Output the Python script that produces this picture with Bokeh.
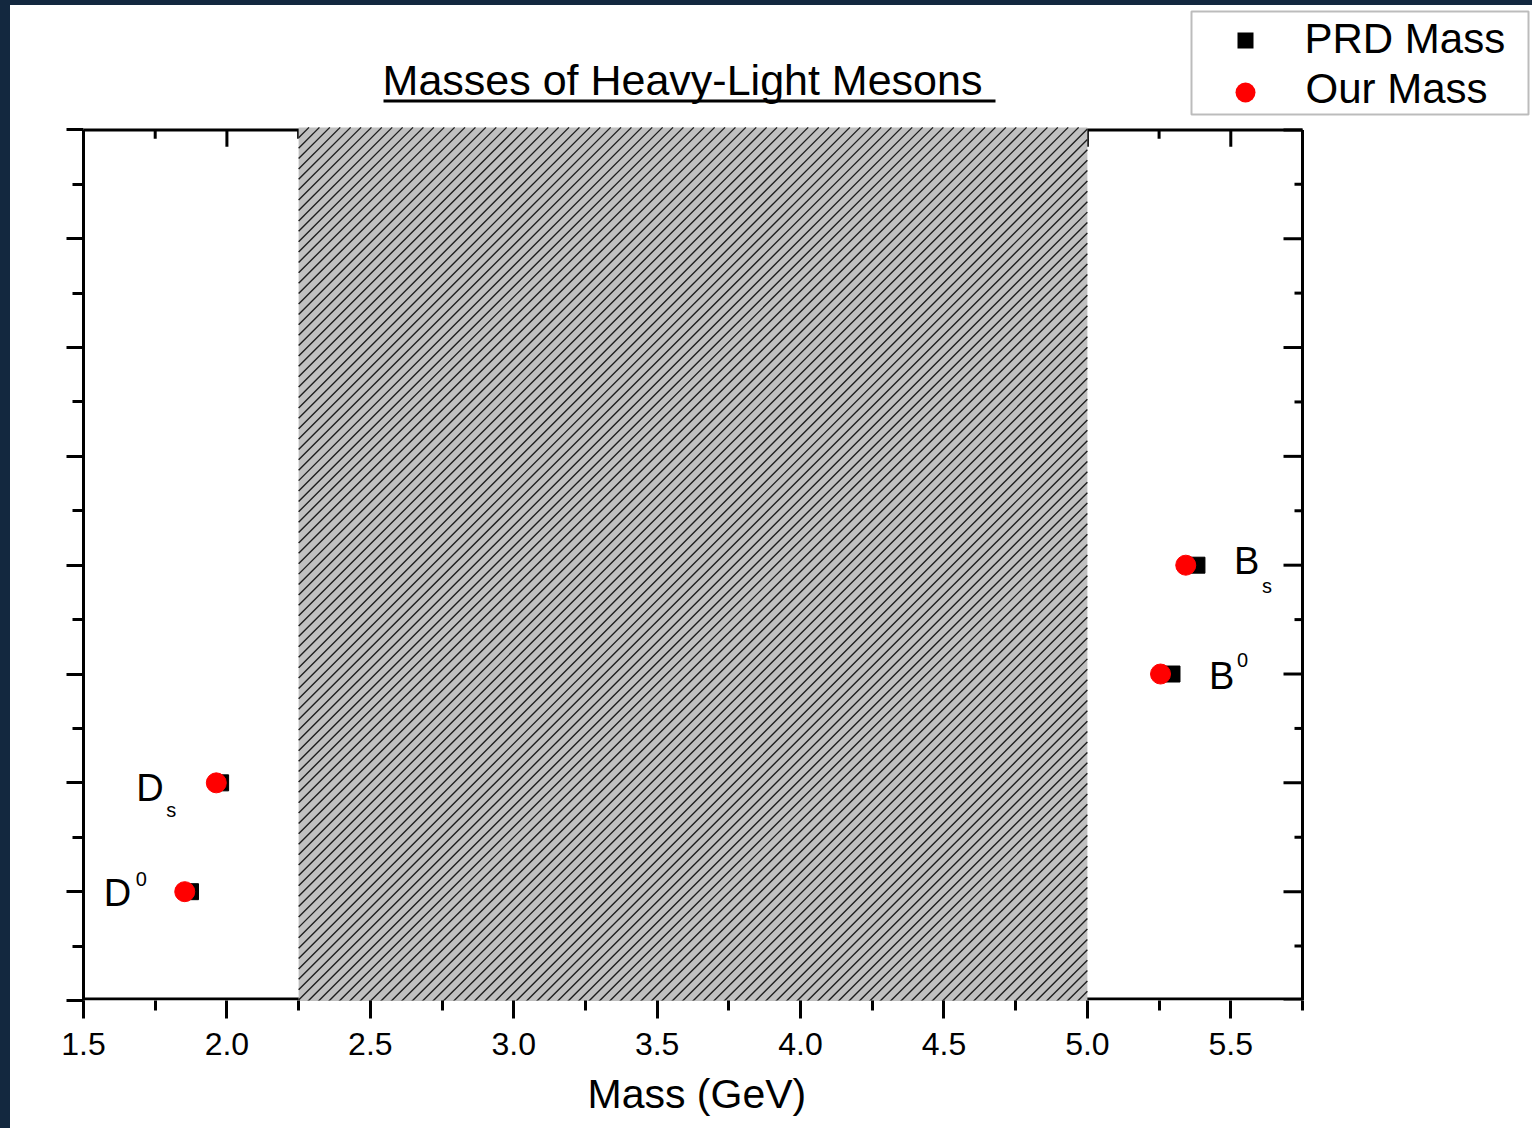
import numpy as np
from bokeh.plotting import figure
from bokeh.layouts import row, column
from bokeh.models import (Range1d, FixedTicker, BoxAnnotation, Label, Title,
                          CustomJSTickFormatter, Spacer)
from bokeh.embed import file_html
from bokeh.resources import INLINE

# ---------------- data ----------------
meson_base = ["D", "D", "B", "B"]
meson_script = ["0", "s", "0", "s"]
meson_rank = [1, 2, 3, 4]
prd_mass = [1.873, 1.978, 5.295, 5.382]
our_mass = [1.853, 1.963, 5.255, 5.343]

x_ticks = [1.5, 2.0, 2.5, 3.0, 3.5, 4.0, 4.5, 5.0, 5.5]
x_tick_labels = ["1.5", "2.0", "2.5", "3.0", "3.5", "4.0", "4.5", "5.0", "5.5"]
x_minor = [1.75, 2.25, 2.75, 3.25, 3.75, 4.25, 4.75, 5.25, 5.75]
y_ticks = [0, 1, 2, 3, 4, 5, 6, 7, 8]
y_minor = [0.5, 1.5, 2.5, 3.5, 4.5, 5.5, 6.5, 7.5]
x_lo, x_hi = 1.5, 5.75
y_lo, y_hi = 0, 8
band_lo, band_hi = 2.25, 5.0

title_text = "Masses of Heavy-Light Mesons"
x_label = "Mass (GeV)"
legend_labels = ["PRD Mass", "Our Mass"]

FONT = "Liberation Sans"
DARK_BG = "#13283f"

# ---------------- geometry (pixels) ----------------
W, H = 1522, 1123          # figure size (page offset 10, 5 by dark slide strips)
FL, FB = 73, 996           # frame left / bottom (canvas px)
AX_R, AX_T = 1292, 124.5   # right and top edges of the drawn axes box
ppx = (AX_R - FL) / (x_hi - x_lo)
ppy = (FB - AX_T) / (y_hi - y_lo)
x_end = x_lo + (W - FL) / ppx
y_end = y_hi + AX_T / ppy

p = figure(width=W, height=H, x_range=Range1d(x_lo, x_end), y_range=Range1d(y_lo, y_end),
           output_backend="svg", toolbar_location=None,
           min_border_left=FL, min_border_right=0, min_border_top=0,
           min_border_bottom=H - FB)
p.xgrid.visible = False
p.ygrid.visible = False
p.outline_line_color = None
p.background_fill_color = "white"
p.border_fill_color = "white"

blank = CustomJSTickFormatter(code="return ''")

def style_axis(ax, tout, min_out):
    ax.axis_line_width = 3
    ax.axis_line_color = "black"
    ax.major_tick_line_width = 3
    ax.minor_tick_line_width = 3
    ax.major_tick_line_color = "black"
    ax.minor_tick_line_color = "black"
    ax.major_tick_in = 0
    ax.major_tick_out = tout
    ax.minor_tick_in = 0
    ax.minor_tick_out = min_out

xb = p.xaxis[0]
xb.ticker = FixedTicker(ticks=x_ticks, minor_ticks=x_minor)
xb.bounds = (x_lo, x_hi)
xb.major_label_overrides = {t: l for t, l in zip(x_ticks, x_tick_labels)}
xb.major_label_text_font = FONT
xb.major_label_text_font_size = "32px"
xb.major_label_text_color = "black"
xb.major_label_standoff = 14
style_axis(xb, 18, 10)
xb.axis_line_color = None          # bottom frame line drawn below (so the band can hide it)

# x-axis title, centred under the drawn axis box (not the whole extended frame)
p.add_layout(Title(text=x_label, align="left", offset=504, standoff=23,
                   text_font=FONT, text_font_size="41px", text_font_style="normal",
                   text_color="black"), "below")

yl = p.yaxis[0]
yl.ticker = FixedTicker(ticks=y_ticks, minor_ticks=y_minor)
yl.bounds = (y_lo, y_hi)
yl.formatter = blank
style_axis(yl, 17, 11)

# frame lines: bottom, top and right (with inward ticks on top / right)
lw_x = 1.5 / ppy
p.segment(x0=[x_lo, x_lo, x_hi], y0=[y_lo + lw_x, y_hi, y_lo],
          x1=[x_hi, x_hi, x_hi], y1=[y_lo + lw_x, y_hi, y_hi],
          line_color="black", line_width=3)
p.segment(x0=x_ticks, y0=[y_hi] * len(x_ticks), x1=x_ticks,
          y1=[y_hi - 17 / ppy] * len(x_ticks), line_color="black", line_width=3)
p.segment(x0=x_minor, y0=[y_hi] * len(x_minor), x1=x_minor,
          y1=[y_hi - 9 / ppy] * len(x_minor), line_color="black", line_width=3)
p.segment(x0=[x_hi] * len(y_ticks), y0=y_ticks, x1=[x_hi - 19 / ppx] * len(y_ticks),
          y1=y_ticks, line_color="black", line_width=3)
p.segment(x0=[x_hi] * len(y_minor), y0=y_minor, x1=[x_hi - 8 / ppx] * len(y_minor),
          y1=y_minor, line_color="black", line_width=3)

# excluded (hatched) mass band, drawn over the frame lines
band_bottom = y_lo - 4 / ppy
band_top = y_hi + 2.5 / ppy
p.quad(left=[band_lo], right=[band_hi], bottom=[band_bottom], top=[band_top],
       fill_color="#c0c0c0", line_color=None)
# 45-degree "/" hatch lines clipped to the band (pixel space -> data space)
Wb = (band_hi - band_lo) * ppx
Hb = (band_top - band_bottom) * ppy
c = np.arange(-Hb, Wb, 10.4)
u0 = np.maximum(0, c)
u1 = np.minimum(Wb, Hb + c)
keep = u1 > u0
u0, u1, c = u0[keep], u1[keep], c[keep]
p.segment(x0=band_lo + u0 / ppx, y0=band_bottom + (u0 - c) / ppy,
          x1=band_lo + u1 / ppx, y1=band_bottom + (u1 - c) / ppy,
          line_color="#1e1e1e", line_width=1.4)

# data points
p.scatter(prd_mass, meson_rank, marker="square", size=16, fill_color="black", line_color="black")
p.scatter(our_mass, meson_rank, marker="circle", size=20, fill_color="#ff0000", line_color="#ff0000")

LIFT = 0.37  # baseline correction (fraction of font size)

# meson labels: (anchor series, base dx, base dy, script dx, script dy)
label_layout = [
    (our_mass, -81, -15, -49, 5),
    (our_mass, -80, -19, -50, -35),
    (prd_mass, 37, -16, 65, 7),
    (prd_mass, 37, -10, 65, -28),
]
for i, (series, bdx, bdy, sdx, sdy) in enumerate(label_layout):
    p.add_layout(Label(x=series[i], y=meson_rank[i], x_offset=bdx, y_offset=bdy + LIFT * 38,
                       text=meson_base[i], text_font=FONT, text_font_size="38px",
                       text_color="black", text_baseline="alphabetic", text_align="left"))
    p.add_layout(Label(x=series[i], y=meson_rank[i], x_offset=sdx, y_offset=sdy + LIFT * 20,
                       text=meson_script[i], text_font=FONT, text_font_size="20px",
                       text_color="black", text_baseline="alphabetic", text_align="left"))

# title (screen units: relative to frame bottom-left, y up)
p.add_layout(Label(x=599, y=905 + LIFT * 43, x_units="screen", y_units="screen", text=title_text,
                   text_font=FONT, text_font_size="43px", text_color="black",
                   text_align="center", text_baseline="alphabetic"))
p.add_layout(BoxAnnotation(left=373, right=985, top=94, bottom=97,
                           left_units="canvas", right_units="canvas",
                           top_units="canvas", bottom_units="canvas",
                           fill_color="black", fill_alpha=1.0, line_color=None))

# legend (manual)
p.add_layout(BoxAnnotation(left=1181, right=1518, top=6, bottom=109,
                           left_units="canvas", right_units="canvas",
                           top_units="canvas", bottom_units="canvas",
                           fill_color="white", fill_alpha=1.0, line_color="#222222",
                           line_width=2))
p.add_layout(BoxAnnotation(left=1227, right=1243, top=27, bottom=43,
                           left_units="canvas", right_units="canvas",
                           top_units="canvas", bottom_units="canvas",
                           fill_color="black", fill_alpha=1.0, line_color=None))
p.add_layout(BoxAnnotation(left=1225, right=1245, top=77, bottom=97,
                           left_units="canvas", right_units="canvas",
                           top_units="canvas", bottom_units="canvas",
                           fill_color="#ff0000", fill_alpha=1.0, line_color=None,
                           border_radius=10))
p.add_layout(Label(x=1221, y=946 + LIFT * 42, x_units="screen", y_units="screen",
                   text=legend_labels[0], text_font=FONT, text_font_size="42px",
                   text_color="black", text_align="left", text_baseline="alphabetic"))
p.add_layout(Label(x=1222, y=896 + LIFT * 42, x_units="screen", y_units="screen",
                   text=legend_labels[1], text_font=FONT, text_font_size="42px",
                   text_color="black", text_align="left", text_baseline="alphabetic"))

left_strip = Spacer(width=10, height=H + 5, styles={"background-color": DARK_BG})
top_strip = Spacer(width=W, height=5, styles={"background-color": DARK_BG})
page = row(left_strip, column(top_strip, p))

open("out.html", "w").write(file_html(page, INLINE))
